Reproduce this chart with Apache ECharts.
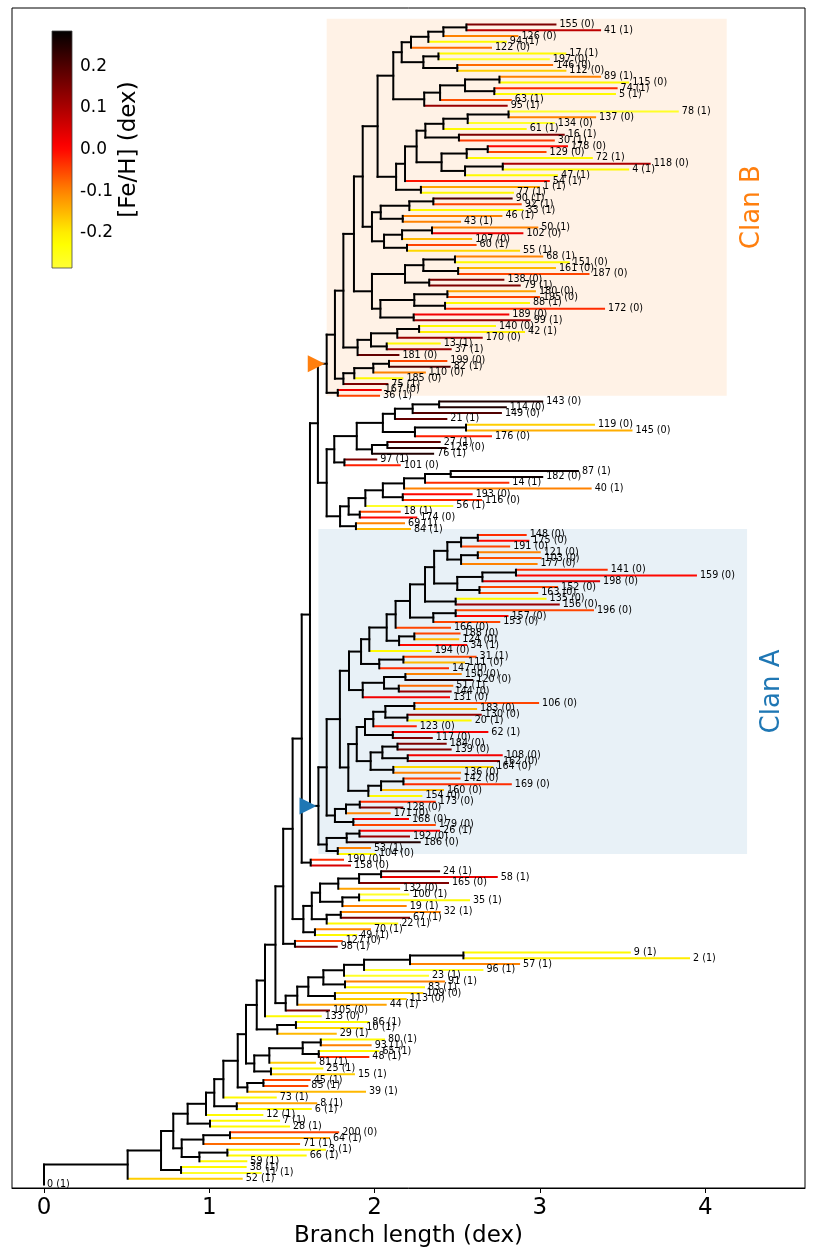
<!DOCTYPE html>
<html><head><meta charset="utf-8">
<script src="https://cdn.jsdelivr.net/npm/echarts@6/dist/echarts.min.js"></script>
<style>html,body{margin:0;padding:0;background:#fff}#c{width:813px;height:1256px}</style>
</head><body><div id="c"></div>
<script>
// ---------------- DATA ----------------
const leafIds = [155,41,126,94,122,17,197,146,112,89,
 115,74,5,63,95,78,137,134,61,16,
 30,178,129,72,118,4,47,54,1,77,
 90,92,33,46,43,50,102,107,60,55,
 68,151,161,187,138,79,180,195,88,172,
 189,99,140,42,170,13,37,181,199,82,
 110,185,75,167,36,143,114,149,21,119,
 145,176,27,125,76,97,101,87,182,14,
 40,193,116,56,18,174,69,84,148,175,
 191,121,103,177,141,159,198,152,163,135,
 156,196,157,153,166,188,124,34,194,31,
 111,147,150,120,51,144,131,106,183,130,
 20,123,62,117,184,139,108,162,164,136,
 142,169,160,154,173,128,171,168,179,26,
 192,186,53,104,190,158,24,58,165,132,
 100,35,19,32,67,22,70,49,127,98,
 9,2,57,96,23,91,83,109,113,44,
 105,133,86,10,29,80,93,65,48,81,
 25,15,45,85,39,73,8,6,12,7,
 28,200,64,71,3,66,59,38,11,52,
 0];
const leafFlags = [0,1,0,1,0,1,0,0,0,1,
 0,1,1,1,1,1,0,0,1,1,
 1,0,0,1,0,1,1,1,1,1,
 1,1,1,1,1,1,0,0,1,1,
 1,0,0,0,0,1,0,0,1,0,
 0,1,0,1,0,1,1,0,0,1,
 0,0,1,0,1,0,0,0,1,0,
 0,0,1,0,1,1,0,1,0,1,
 1,0,0,1,1,0,1,1,0,0,
 0,0,0,0,0,0,0,0,0,0,
 0,0,0,0,0,0,0,1,0,1,
 0,0,0,0,1,0,0,0,0,0,
 1,0,1,0,0,0,0,0,0,0,
 0,0,0,0,0,0,0,0,0,1,
 0,0,1,0,0,0,1,1,0,0,
 1,1,1,1,1,1,1,1,0,1,
 1,1,1,1,1,1,1,0,0,1,
 0,0,1,1,1,1,1,1,1,1,
 1,1,1,1,1,1,1,1,1,1,
 1,0,1,1,1,1,1,1,1,1,
 1];
const leafDepth = [3.10,3.37,2.87,2.80,2.71,3.16,3.06,3.08,3.16,3.37,
 3.54,3.47,3.46,2.83,2.805,3.84,3.34,3.09,2.92,3.15,
 3.09,3.17,3.04,3.32,3.67,3.54,3.11,3.06,3.00,2.843,
 2.835,2.89,2.90,2.773,2.523,2.99,2.90,2.59,2.617,2.88,
 3.02,3.18,3.097,3.30,2.785,2.884,2.976,3.00,2.94,3.394,
 2.815,2.944,2.734,2.91,2.654,2.40,2.466,2.15,2.44,2.46,
 2.31,2.174,2.083,2.043,2.033,3.02,2.80,2.77,2.44,3.333,
 3.56,2.71,2.40,2.436,2.36,2.016,2.158,3.236,3.02,2.815,
 3.313,2.593,2.65,2.476,2.158,2.258,2.184,2.22,2.92,2.936,
 2.82,3.005,3.01,2.986,3.41,3.95,3.364,3.11,2.99,3.04,
 3.12,3.327,2.81,2.76,2.462,2.52,2.512,2.56,2.345,2.617,
 2.547,2.45,2.527,2.597,2.476,2.466,2.456,2.995,2.62,2.648,
 2.587,2.255,2.688,2.352,2.436,2.466,2.775,2.758,2.718,2.523,
 2.52,2.83,2.42,2.289,2.37,2.174,2.097,2.208,2.37,2.396,
 2.214,2.279,1.978,2.008,1.815,1.857,2.396,2.745,2.45,2.154,
 2.21,2.577,2.194,2.40,2.214,2.143,1.978,1.895,1.807,1.777,
 3.55,3.908,2.88,2.658,2.329,2.426,2.305,2.295,2.194,2.073,
 1.73,1.68,1.968,1.932,1.771,2.063,1.982,2.029,1.968,1.645,
 1.69,1.881,1.613,1.599,1.948,1.408,1.653,1.62,1.327,1.428,
 1.488,1.786,1.73,1.549,1.706,1.589,1.23,1.226,1.317,1.202,
 0];
const leafFeh = [0.15,0.08,-0.10,-0.22,-0.08,-0.22,-0.27,-0.08,-0.17,-0.10,
 -0.22,-0.03,-0.22,-0.06,0.12,-0.27,-0.10,-0.27,-0.22,0.15,
 -0.04,0.0,-0.05,-0.22,0.10,-0.22,-0.22,-0.01,-0.13,-0.22,
 0.20,-0.05,-0.22,-0.10,-0.10,-0.10,0.03,-0.15,-0.05,-0.18,
 -0.10,-0.22,-0.15,-0.05,0.15,0.15,-0.13,-0.05,-0.22,-0.03,
 0.02,0.12,-0.22,-0.20,0.12,-0.22,0.12,0.18,-0.05,0.20,
 -0.10,-0.22,0.15,0.02,-0.05,0.25,0.25,0.20,0.18,-0.17,
 -0.14,-0.02,0.18,0.25,0.25,0.15,-0.02,0.27,0.27,-0.03,
 -0.10,0.0,-0.03,-0.27,-0.05,0.0,-0.10,-0.15,-0.03,0.0,
 -0.05,-0.10,-0.06,-0.10,-0.03,0.0,0.05,-0.05,-0.05,-0.22,
 0.12,-0.05,0.0,-0.05,-0.05,-0.05,-0.15,0.0,-0.22,-0.05,
 -0.15,-0.03,-0.10,0.25,-0.08,0.12,0.02,-0.05,-0.15,0.12,
 -0.22,-0.02,0.02,0.15,0.15,0.15,0.02,0.12,-0.18,-0.10,
 -0.05,-0.03,-0.15,-0.22,-0.03,0.15,-0.10,0.02,-0.05,0.02,
 0.12,0.25,-0.10,-0.22,-0.03,0.05,0.22,0.03,0.15,-0.13,
 -0.27,-0.22,-0.10,-0.10,0.15,-0.22,-0.10,-0.22,-0.05,0.15,
 -0.22,-0.20,-0.10,-0.27,-0.27,-0.10,-0.22,-0.17,-0.17,-0.13,
 0.15,-0.22,-0.22,-0.18,-0.15,-0.22,-0.10,-0.22,-0.03,-0.17,
 -0.22,-0.17,-0.05,-0.05,-0.15,-0.22,-0.13,-0.22,-0.22,-0.22,
 -0.22,-0.05,-0.13,-0.08,-0.22,-0.22,-0.22,-0.22,-0.27,-0.17,
 -0.15];

// tree topology: leaves by id, ")d" = depth (dex) of the internal node
const topoB = [
 "((((155,41)2.555,126)2.416,94)2.325,122)2.22",
 "((17,197)2.386,(146,112)2.5)2.295",
 "((((89,115)2.755,(74,5)2.724)2.547,63)2.396,95)2.3",
 "((((78,137)2.81,134)2.563,61)2.416,(16,30)2.51)2.307",
 "(((178,129)2.684,72)2.557,((118,4)2.775,47)2.547)2.405",
 "(((90,92)2.355,33)2.21,(46,43)2.17)2.037",
 "(((50,102)2.347,107)2.166,(60,55)2.196)2.057",
 "(((68,151)2.486,(161,187)2.505)2.295,(138,79)2.33)2.184",
 "(((180,195)2.44,(88,172)2.426)2.24,(189,99)2.236)2.035",
 "((((140,42)2.269,170)2.137,(13,37)2.073)1.978,181)1.897",
 "((((199,82)2.087,110)1.992,185)1.877,75)1.811"
];
const topoM = [
 "((((143,114)2.39,149)2.23,21)2.123,((119,145)2.553,176)2.244)2.05",
 "(((((((87,182)2.46,14)2.305,40)2.178,(193,116)2.17)2.05,56)1.944,(18,174)1.91)1.843,(69,84)1.887)1.791"
];
const topoA = [
 "(((148,175)2.624,191)2.523,((121,103)2.624,177)2.523)2.44",
 "(((141,159)2.855,198)2.652,(152,163)2.634)2.5",
 "(((150,120)2.186,(51,144)2.146)2.057,131)1.928",
 "((((106,183)2.24,(130,20)2.198)2.065,123)1.992,(62,117)2.11)1.942",
 "(((184,139)2.138,(108,162)2.2)2.047,(164,136)2.113)1.976",
 "(((142,169)2.174,160)2.039,154)1.962",
 "(((173,128)1.91,171)1.827,(168,179)1.871)1.76",
 "(((26,192)1.908,186)1.831,(53,104)1.777)1.71"
];
const topoL = [
 "((((((24,58)2.039,165)1.906,132)1.78,((100,35)1.906,19)1.805)1.67,((32,67)1.795,22)1.71)1.62,(70,49)1.639)1.569",
 "((((((((9,2)2.537,57)2.214,96)1.936,23)1.815,(91,83)1.821)1.69,(109,113)1.76)1.599,44)1.532,105)1.462",
 "((((80,93)1.674,(65,48)1.662)1.565,81)1.363,(25,15)1.373)1.272",
 "(((200,64)1.125,71)0.964,((3,66)1.109,59)0.94)0.833"
];
const backboneSister = ["(190,158)1.613", topoL[0], "(127,98)1.518", topoL[1], "133",
 "((86,10)1.524,29)1.411", topoL[2], "((45,85)1.327,39)1.23", "73", "(8,6)1.166", "12",
 "(7,28)1.004", topoL[3], "(38,11)0.829", "52", "0"];
const backboneDepth = [1.559,1.504,1.447,1.40,1.337,1.287,1.222,1.172,1.085,1.03,0.98,0.869,0.782,0.708,0.506,0];

const clanNames = ['Clan B', 'Clan A'];
const clanFirstLeaf = [155, 148];
const clanLastLeaf = [36, 104];
const clanRight = [4.13, 4.253];
const fehRange = [-0.285, 0.285];
const fehTicks = [-0.2, -0.1, 0, 0.1, 0.2];
const xTicks = [0, 1, 2, 3, 4];

// ---------------- BUILD TREE ----------------
const [b1,b2,b3,b4,b5,b6,b7,b8,b9,b10,b11] = topoB;
const B1_15 = `((${b1},${b2})2.164,${b3})2.113`;
const B16_30 = `(((${b4},${b5})2.254,54)2.184,(1,77)2.28)2.13`;
const B1_40 = `((${B1_15},${B16_30})2.018,(${b6},${b7})1.984)1.928`;
const B1_52 = `(${B1_40},(${b8},${b9})1.984)1.875`;
const clanBStr = `(((${B1_52},${b10})1.811,${b11})1.76,(167,36)1.777)1.71`;
const midStr = `(((${topoM[0]},((27,125)2.077,76)1.984)1.892,(97,101)1.817)1.756,${topoM[1]})1.71`;
const [a1,a2,a3,a4,a5,a6,a7,a8] = topoA;
const A89_105 = `((((${a1},${a2})2.36,(135,156)2.49)2.305,((196,157)2.49,153)2.355)2.214,166)2.127`;
const A89_112 = `(((${A89_105},((188,124)2.24,34)2.148)2.073,194)1.968,((31,111)2.174,147)2.028)1.918`;
const A89_134 = `((${A89_112},${a3})1.845,((${a4},${a5})1.892,${a6})1.841)1.79`;
const clanAStr = `((${A89_134},${a7})1.71,${a8})1.66`;
let treeStr = `((${clanBStr},${midStr})1.657,${clanAStr})1.609`;
backboneSister.forEach((s, k) => { treeStr = `(${treeStr},${s})${backboneDepth[k]}`; });

const idxOf = {}; leafIds.forEach((id, k) => idxOf[id] = k);
function parseTree(str) {
  let i = 0;
  function num() { const s = i; while (i < str.length && /[0-9.]/.test(str[i])) i++; return parseFloat(str.slice(s, i)); }
  function node() {
    if (str[i] === '(') {
      i++; const ch = [];
      for (;;) { ch.push(node()); if (str[i] === ',') { i++; continue; } i++; break; }
      return { children: ch, depth: num() };
    }
    const id = num(); const k = idxOf[id];
    return { leaf: k, depth: leafDepth[k] };
  }
  return node();
}
const root = parseTree(treeStr);

const blackSegs = [], leafSegs = [], internal = [];
function walk(n, pd) {
  if (n.children) {
    n.children.forEach(c => walk(c, n.depth));
    const f = n.children[0], l = n.children[n.children.length - 1];
    n.y = (f.y + l.y) / 2; n.lo = f.lo; n.hi = l.hi;
    internal.push(n);
    blackSegs.push([n.depth, f.y, n.depth, l.y]);
    if (pd !== null) blackSegs.push([pd, n.y, n.depth, n.y]);
  } else {
    n.y = n.leaf; n.lo = n.hi = n.leaf;
    leafSegs.push([pd, n.depth, n.y, leafFeh[n.leaf], n.leaf]);
  }
}
walk(root, null);

const clanBoxes = clanNames.map((nm, c) => {
  const lo = idxOf[clanFirstLeaf[c]], hi = idxOf[clanLastLeaf[c]];
  const nd = internal.find(n => n.lo === lo && n.hi === hi);
  return { x0: nd.depth, y0: lo - 1, x1: clanRight[c], y1: hi, nodeX: nd.depth, nodeY: nd.y };
});
const clanColors = ['#ff7f0e', '#1f77b4'];
const clanFill = ['rgba(255,127,14,0.1)', 'rgba(31,119,180,0.1)'];

// colour map (hot_r style)
function hotColor(v) {
  const vs = [-0.285, -0.2, -0.1, 0, 0.1, 0.2, 0.285], ss = [0.80, 0.72, 0.56, 0.375, 0.245, 0.115, 0.0];
  let s = ss[0];
  for (let k = 0; k < vs.length - 1; k++) {
    if (v >= vs[k] && v <= vs[k + 1]) { s = ss[k] + (ss[k + 1] - ss[k]) * (v - vs[k]) / (vs[k + 1] - vs[k]); break; }
  }
  if (v > vs[vs.length - 1]) s = 0;
  const cl = t => Math.max(0, Math.min(1, t));
  const r = cl(s / 0.365), g = cl((s - 0.365) / 0.381), b = cl((s - 0.746) / 0.254);
  const h = t => Math.round(t * 255).toString(16).padStart(2, '0');
  return '#' + h(r) + h(g) + h(b);
}
const NC = 41;
const cmapColors = [];
for (let k = 0; k < NC; k++) cmapColors.push(hotColor(fehRange[0] + (fehRange[1] - fehRange[0]) * k / (NC - 1)));

// ---------------- CHART ----------------
const FONT = 'DejaVu Sans';
const chart = echarts.init(document.getElementById('c'), null, { renderer: 'canvas' });
chart.setOption({
  animation: false,
  textStyle: { fontFamily: FONT, color: '#000' },
  grid: [
    { left: 12, right: 8, top: 8, bottom: 68, show: true, borderColor: '#000', borderWidth: 1 },
    { left: 52, top: 31, width: 20, height: 237, show: false }
  ],
  xAxis: [
    { type: 'value', gridIndex: 0, min: -0.1936, max: 4.6036,
      axisLine: { show: true, onZero: false, lineStyle: { color: '#000', width: 1 } },
      axisTick: { show: true, customValues: xTicks, length: 5, lineStyle: { color: '#000' } },
      axisLabel: { customValues: xTicks, fontSize: 23, color: '#000', margin: 9, fontFamily: FONT },
      splitLine: { show: false },
      name: 'Branch length (dex)', nameLocation: 'middle', nameGap: 36,
      nameTextStyle: { fontSize: 23, color: '#000', fontFamily: FONT } },
    { type: 'value', gridIndex: 1, min: 0, max: 1, show: false }
  ],
  yAxis: [
    { type: 'value', gridIndex: 0, inverse: true, min: -2.84, max: 200.6, show: false },
    { type: 'value', gridIndex: 1, min: fehRange[0], max: fehRange[1], position: 'right',
      axisLine: { show: false },
      axisTick: { show: true, customValues: fehTicks, length: 5, lineStyle: { color: '#000' } },
      axisLabel: { customValues: fehTicks, formatter: v => v.toFixed(1), fontSize: 17, color: '#000', margin: 8, fontFamily: FONT },
      splitLine: { show: false },
      name: '[Fe/H] (dex)', nameLocation: 'middle', nameRotate: 90, nameGap: 44,
      nameTextStyle: { fontSize: 23, color: '#000', fontFamily: FONT } }
  ],
  visualMap: [{ type: 'continuous', show: false, min: fehRange[0], max: fehRange[1],
    dimension: 3, seriesIndex: [1], inRange: { color: cmapColors } }],
  series: [
    { // clan boxes and names
      type: 'custom', xAxisIndex: 0, yAxisIndex: 0, z: 1, silent: true,
      data: clanBoxes.map((b, c) => [b.x0, b.y0, b.x1, b.y1, c]),
      renderItem: (p, api) => {
        const c = api.value(4);
        const a = api.coord([api.value(0), api.value(1)]);
        const b = api.coord([api.value(2), api.value(3)]);
        const t = api.coord([api.value(2) + 0.155, (api.value(1) + api.value(3)) / 2]);
        return { type: 'group', children: [
          { type: 'rect', shape: { x: a[0], y: a[1], width: b[0] - a[0], height: b[1] - a[1] }, style: { fill: clanFill[c] } },
          { type: 'text', x: t[0], y: t[1], rotation: Math.PI / 2,
            style: { text: clanNames[c], fontSize: 26, fontFamily: FONT, fill: clanColors[c], align: 'center', verticalAlign: 'middle' } }
        ] };
      }
    },
    { // coloured leaf branches
      type: 'custom', xAxisIndex: 0, yAxisIndex: 0, z: 2, silent: true,
      dimensions: ['x0', 'x1', 'y', 'feh', 'k'], encode: { x: [0, 1], y: 2 },
      data: leafSegs,
      renderItem: (p, api) => {
        const a = api.coord([api.value(0), api.value(2)]);
        const b = api.coord([api.value(1), api.value(2)]);
        return { type: 'line', shape: { x1: a[0], y1: a[1], x2: b[0], y2: b[1] },
          style: { stroke: api.visual('color'), lineWidth: 2 } };
      }
    },
    { // black internal branches
      type: 'custom', xAxisIndex: 0, yAxisIndex: 0, z: 3, silent: true,
      data: blackSegs,
      renderItem: (p, api) => {
        const a = api.coord([api.value(0), api.value(1)]);
        const b = api.coord([api.value(2), api.value(3)]);
        return { type: 'line', shape: { x1: a[0], y1: a[1], x2: b[0], y2: b[1] },
          style: { stroke: '#000', lineWidth: 2, lineCap: 'square' } };
      }
    },
    { // clan markers
      type: 'scatter', xAxisIndex: 0, yAxisIndex: 0, z: 4, silent: true,
      symbol: 'triangle', symbolRotate: -90, symbolSize: 17,
      data: clanBoxes.map((b, c) => ({ value: [b.nodeX - 0.063, b.nodeY], itemStyle: { color: clanColors[c], opacity: 1 } }))
    },
    { // leaf labels
      type: 'custom', xAxisIndex: 0, yAxisIndex: 0, z: 5, silent: true,
      data: leafSegs.map(s => [s[1], s[2], s[4]]),
      renderItem: (p, api) => {
        const a = api.coord([api.value(0), api.value(1)]);
        const k = api.value(2);
        return { type: 'text', x: a[0] + 3, y: a[1],
          style: { text: leafIds[k] + ' (' + leafFlags[k] + ')', fontSize: 9.6, fontFamily: FONT, fill: '#000', align: 'left', verticalAlign: 'middle' } };
      }
    },
    { // colour bar
      type: 'custom', xAxisIndex: 1, yAxisIndex: 1, z: 2, silent: true,
      data: [[0, fehRange[0], 1, fehRange[1]]],
      renderItem: (p, api) => {
        const a = api.coord([api.value(0), api.value(3)]);
        const b = api.coord([api.value(2), api.value(1)]);
        const stops = cmapColors.map((col, k) => ({ offset: k / (cmapColors.length - 1), color: col }));
        return { type: 'rect', shape: { x: a[0], y: a[1], width: b[0] - a[0], height: b[1] - a[1] },
          style: { fill: new echarts.graphic.LinearGradient(0, 1, 0, 0, stops), stroke: '#444', lineWidth: 0.8 } };
      }
    }
  ]
});
</script>
</body></html>
